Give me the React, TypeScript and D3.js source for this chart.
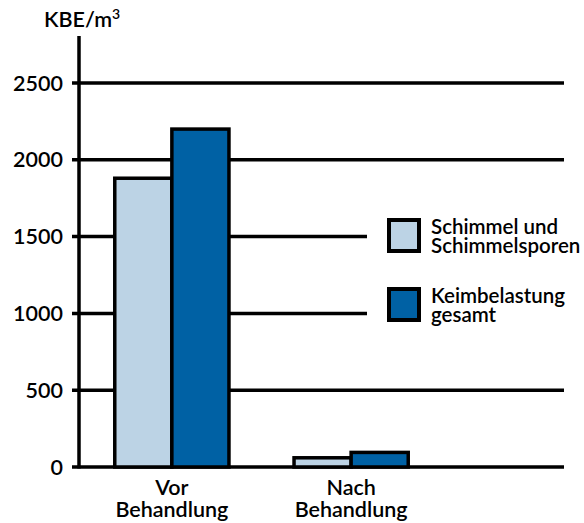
import React, { useEffect, useRef } from 'react';
import * as d3 from 'd3';

const categories = ['Vor Behandlung', 'Nach Behandlung'];
const seriesNames = ['Schimmel und Schimmelsporen', 'Keimbelastung gesamt'];
const schimmel = [1880, 60];
const keimbelastung = [2200, 95];
const yTicks = [0, 500, 1000, 1500, 2000, 2500];

const colors = ['#bcd3e5', '#0061a4'];

const App: React.FC = () => {
  const chartRef = useRef<SVGSVGElement | null>(null);

  useEffect(() => {
    if (!chartRef.current) return;
    const svg = d3.select(chartRef.current);
    svg.selectAll('*').remove();

    const width = 584;
    const height = 523;
    const font = 'Lato, "Open Sans", sans-serif';
    const fs = 21.5;

    const y = d3.scaleLinear().domain([0, 2500]).range([467, 83]);
    const x0 = d3.scaleBand<string>()
      .domain(categories)
      .range([82.5, 440.5])
      .paddingInner(0.363)
      .paddingOuter(0.18);
    const x1 = d3.scaleBand<number>()
      .domain([0, 1])
      .range([0, x0.bandwidth()]);

    svg.attr('width', width).attr('height', height);

    // Gitterlinien
    svg.append('g')
      .selectAll('line')
      .data(yTicks)
      .enter()
      .append('line')
      .attr('x1', 72)
      .attr('x2', 564)
      .attr('y1', (d) => y(d))
      .attr('y2', (d) => y(d))
      .attr('stroke', '#000')
      .attr('stroke-width', 3.5);

    // Y-Achse
    svg.append('line')
      .attr('x1', 79)
      .attr('x2', 79)
      .attr('y1', 36)
      .attr('y2', y(0) + 1.5)
      .attr('stroke', '#000')
      .attr('stroke-width', 3.5);

    svg.append('g')
      .selectAll('text')
      .data(yTicks)
      .enter()
      .append('text')
      .attr('x', 63)
      .attr('y', (d) => y(d) + 7.5)
      .attr('text-anchor', 'end')
      .attr('font-family', font)
      .attr('font-size', fs)
      .attr('font-weight', 600)
      .text((d) => String(d));

    svg.append('text')
      .attr('x', 44)
      .attr('y', 27)
      .attr('font-family', font)
      .attr('font-size', fs)
      .attr('font-weight', 600)
      .text('KBE/m')
      .append('tspan')
      .attr('dy', -8)
      .attr('font-size', 14)
      .text('3');

    // Balken
    const series = [schimmel, keimbelastung];
    series.forEach((values, si) => {
      svg.append('g')
        .selectAll('rect')
        .data(values)
        .enter()
        .append('rect')
        .attr('x', (_, i) => x0(categories[i])! + x1(si)!)
        .attr('y', (d) => y(d))
        .attr('width', x1.bandwidth())
        .attr('height', (d) => y(0) - y(d))
        .attr('fill', colors[si])
        .attr('stroke', '#000')
        .attr('stroke-width', 3.5);
    });

    // Kategorien
    categories.forEach((c) => {
      const cx = x0(c)! + x0.bandwidth() / 2;
      c.split(' ').forEach((w, i) => {
        svg.append('text')
          .attr('text-anchor', 'middle')
          .attr('font-family', font)
          .attr('font-size', fs)
          .attr('font-weight', 600)
          .attr('x', cx)
          .attr('y', 495 + i * 22)
          .text(w);
      });
    });

    // Legende
    svg.append('rect')
      .attr('x', 367)
      .attr('y', 205)
      .attr('width', 217)
      .attr('height', 125)
      .attr('fill', '#fff');

    const legendLines = [['Schimmel und', 'Schimmelsporen'], ['Keimbelastung', 'gesamt']];
    seriesNames.forEach((_, i) => {
      const top = 220 + i * 69;
      svg.append('rect')
        .attr('x', 389)
        .attr('y', top)
        .attr('width', 30)
        .attr('height', 31)
        .attr('fill', colors[i])
        .attr('stroke', '#000')
        .attr('stroke-width', 4);
      legendLines[i].forEach((line, j) => {
        svg.append('text')
          .attr('font-family', font)
          .attr('font-size', 20.5)
          .attr('font-weight', 600)
          .attr('x', 431)
          .attr('y', top + 14 + j * 18.5)
          .text(line);
      });
    });
  }, []);

  return (
    <svg ref={chartRef} style={{ position: 'absolute', left: 0, top: 0 }} />
  );
};

export default App;
